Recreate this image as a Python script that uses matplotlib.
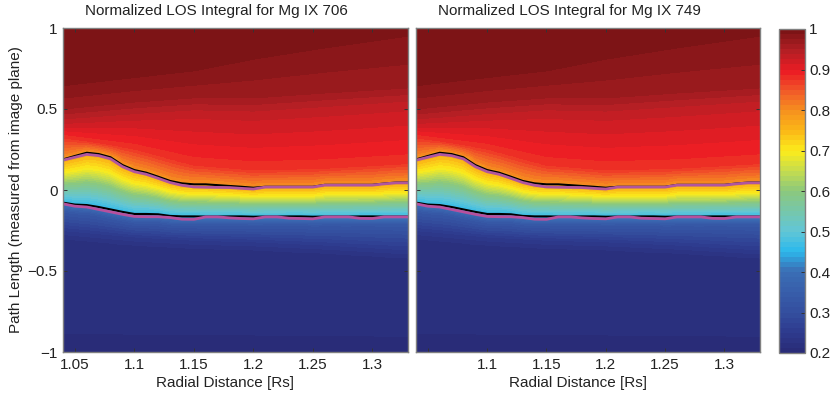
import matplotlib
matplotlib.use('Agg')
import matplotlib.pyplot as plt
import numpy as np
from matplotlib.colors import LinearSegmentedColormap

plt.rcParams['font.family'] = ['Liberation Sans', 'DejaVu Sans']

# radial grid of the LOS columns [Rs]
radial = [1.04, 1.05, 1.06, 1.07, 1.08, 1.09, 1.10, 1.11, 1.12, 1.13,
          1.14, 1.15, 1.16, 1.17, 1.18, 1.19, 1.20, 1.21, 1.22, 1.23,
          1.24, 1.25, 1.26, 1.27, 1.28, 1.29, 1.30, 1.31, 1.32, 1.33]

# black contour heights (upper / lower boundary of the emitting layer)
upper_black = [0.189, 0.210, 0.230, 0.222, 0.202, 0.154, 0.123, 0.107, 0.082, 0.056,
               0.041, 0.035, 0.035, 0.030, 0.025, 0.020, 0.014, 0.020, 0.020, 0.020,
               0.020, 0.020, 0.032, 0.032, 0.032, 0.032, 0.032, 0.040, 0.046, 0.046]
lower_black = [-0.078, -0.090, -0.093, -0.105, -0.120, -0.135, -0.148, -0.148, -0.150, -0.160,
               -0.163, -0.163, -0.164, -0.164, -0.163, -0.163, -0.165, -0.164, -0.164, -0.163,
               -0.163, -0.165, -0.164, -0.164, -0.164, -0.163, -0.163, -0.164, -0.164, -0.164]

# magenta comparison curves
upper_magenta = [0.184, 0.202, 0.220, 0.212, 0.192, 0.144, 0.113, 0.097, 0.072, 0.046,
                 0.029, 0.019, 0.017, 0.016, 0.015, 0.010, 0.006, 0.018, 0.018, 0.018,
                 0.018, 0.018, 0.030, 0.030, 0.030, 0.030, 0.030, 0.038, 0.044, 0.044]
lower_magenta = [-0.085, -0.100, -0.105, -0.120, -0.135, -0.150, -0.163, -0.165, -0.165, -0.170,
                 -0.180, -0.181, -0.166, -0.166, -0.172, -0.176, -0.178, -0.166, -0.166, -0.174,
                 -0.176, -0.178, -0.166, -0.166, -0.166, -0.175, -0.176, -0.166, -0.166, -0.166]

# heights of the smooth isolines away from the layer, read at a few radii
knot_r = [1.04, 1.10, 1.15, 1.20, 1.26, 1.33]
h_navy = [-0.25, -0.29, -0.31, -0.32, -0.34, -0.37]   # 0.25
h_088 = [0.33, 0.26, 0.16, 0.13, 0.14, 0.17]
h_093 = [0.42, 0.45, 0.473, 0.463, 0.49, 0.525]
h_0965 = [0.506, 0.55, 0.576, 0.576, 0.607, 0.638]
h_099 = [0.659, 0.71, 0.753, 0.833, 0.907, 0.985]

# profile inside the layer: fraction of the gap -> value
gap_frac = [0.15, 0.45, 0.72]
gap_vals = [0.50, 0.60, 0.70]
lev_lower, lev_upper = 0.455, 0.765

titles = ['Normalized LOS Integral for Mg IX 706',
          'Normalized LOS Integral for Mg IX 749']
xticks = [1.05, 1.1, 1.15, 1.2, 1.25, 1.3]
yticks = [-1, -0.5, 0, 0.5, 1]
cticks = [0.2, 0.3, 0.4, 0.5, 0.6, 0.7, 0.8, 0.9, 1.0]

# printed-jet colour map
cm_pos = [0, 0.0625, 0.125, 0.25, 0.3125, 0.375, 0.5, 0.5625, 0.625,
          0.6875, 0.75, 0.8125, 0.875, 0.9375, 1.0]
cm_col = ['#292c78', '#2e3c8f', '#3450a0', '#3b6fb6', '#2cb9ec', '#62c6d6',
          '#8cc87c', '#c4dc4f', '#fbec1c', '#fbb717', '#f6921e', '#f15a29',
          '#ec1c24', '#b41f24', '#7d1416']
cmap = LinearSegmentedColormap.from_list('printjet', list(zip(cm_pos, cm_col)), N=64)


def build_field(y):
    r = np.array(radial)
    cols = []
    for i, x in enumerate(r):
        yU, yL = upper_black[i], lower_black[i]
        g = yU - yL
        yn = np.interp(x, knot_r, h_navy)
        yk = [-1.0, yn - 0.05, yn, yL - 0.05, yL - 0.01, yL]
        yk += [yL + f * g for f in gap_frac]
        yk += [yU, yU + 0.012,
               np.interp(x, knot_r, h_088), np.interp(x, knot_r, h_093),
               np.interp(x, knot_r, h_0965), np.interp(x, knot_r, h_099), 1.0]
        vk = [0.21, 0.225, 0.25, 0.33, 0.40, lev_lower] + gap_vals + \
             [lev_upper, 0.80, 0.88, 0.93, 0.965, 0.99, 0.999]
        cols.append(np.interp(y, yk, vk))
    return np.array(cols).T


y = np.linspace(-1, 1, 801)
Z = build_field(y)
X, Y = np.meshgrid(radial, y)
levels = np.linspace(0.2, 1.0, 65)

fig = plt.figure(figsize=(8.3, 3.96), dpi=100)
axes = [fig.add_axes([63 / 830, 44 / 396, 345 / 830, 324 / 396]),
        fig.add_axes([416 / 830, 44 / 396, 344 / 830, 324 / 396])]
cax = fig.add_axes([779 / 830, 43 / 396, 26 / 830, 324 / 396])

txt = '#222222'
fs = 11
for k, ax in enumerate(axes):
    cf = ax.contourf(X, Y, Z, levels=levels, cmap=cmap, vmin=0.2, vmax=1.0)
    ax.plot(radial, upper_black, color='black', lw=1.5)
    ax.plot(radial, lower_black, color='black', lw=1.5)
    ax.plot(radial, upper_magenta, color='#b0569f', lw=2.0)
    ax.plot(radial, lower_magenta, color='#b7509e', lw=2.0)
    ax.set_xlim(1.04, 1.33)
    ax.set_ylim(-1, 1)
    ax.set_xticks(xticks)
    labels = ['%g' % t for t in xticks]
    if k == 1:
        labels[0] = ''
    ax.set_xticklabels(labels)
    ax.set_yticks(yticks)
    ax.set_yticklabels([('%g' % t).replace('-', '\u2212') for t in yticks])
    ax.tick_params(direction='in', top=True, right=True, length=3, width=0.7,
                   labelsize=fs, labelcolor=txt, color='#333333', pad=4)
    if k == 1:
        ax.tick_params(labelleft=False)
    for s in ax.spines.values():
        s.set_color('#808080')
        s.set_linewidth(1.0)
    ax.set_title(titles[k], fontsize=fs, color=txt, pad=9, x=0.445)
    ax.set_xlabel('Radial Distance [Rs]', fontsize=fs, color=txt)
    ax.xaxis.set_label_coords(0.47, -0.075)
    if k == 0:
        ax.set_ylabel('Path Length (measured from image plane)', fontsize=fs,
                      color=txt, labelpad=3)

cb = fig.colorbar(cf, cax=cax, ticks=cticks)
cb.ax.set_yticklabels(['%g' % t for t in cticks])
cb.ax.tick_params(direction='in', length=3, width=0.7, labelsize=fs,
                  labelcolor=txt, color='#333333', pad=3)
cb.outline.set_edgecolor('#808080')
cb.outline.set_linewidth(1.0)

fig.savefig('out.png', dpi=100)
